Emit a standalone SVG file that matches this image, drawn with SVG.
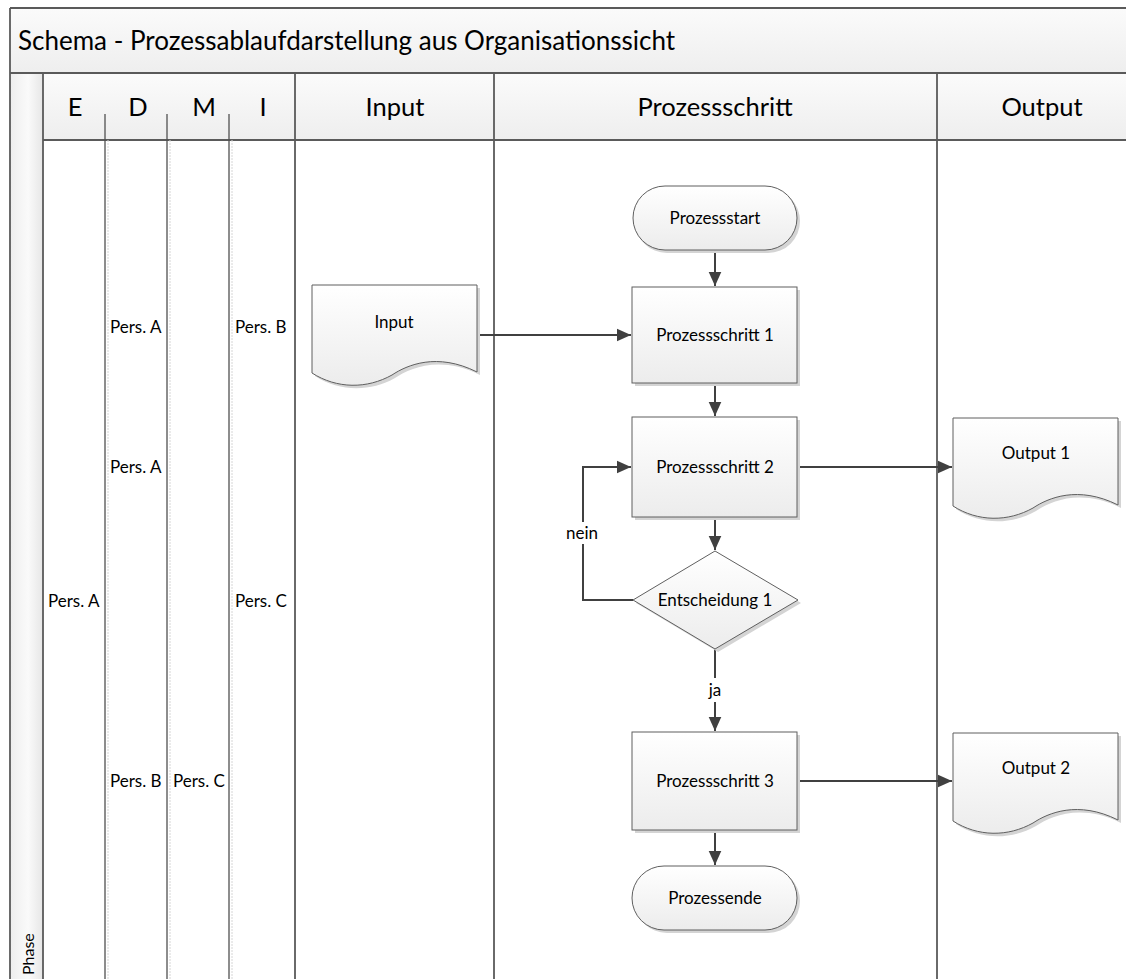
<svg xmlns="http://www.w3.org/2000/svg" width="1126" height="979" viewBox="0 0 1126 979">
  <style>
    .lane { stroke: #5a5a5a; stroke-width: 1.8; fill: none; }
    .sub { stroke: #505050; stroke-width: 1.3; fill: none; }
    .subs { stroke: #d6d6d6; stroke-width: 1; stroke-dasharray: 2 1; fill: none; }
    .shape { fill: url(#shapeFill); stroke: #5f5f5f; stroke-width: 1; }
    .shadow { fill: #d4d4d4; stroke: none; }
    .conn { stroke: #404040; stroke-width: 2; fill: none; }
    .t { font-family: Lato, "Open Sans", sans-serif; fill: #000; }
    .head { font-size: 25.5px; text-anchor: middle; }
    .node { font-size: 17px; text-anchor: middle; }
    .pers { font-size: 17px; }
  </style>
  <defs>
    <linearGradient id="shapeFill" x1="0" y1="0" x2="0" y2="1">
      <stop offset="0" stop-color="#ffffff"/>
      <stop offset="1" stop-color="#ececec"/>
    </linearGradient>
    <linearGradient id="headFill" x1="0" y1="0" x2="0" y2="1">
      <stop offset="0" stop-color="#fbfbfb"/>
      <stop offset="1" stop-color="#eeeeee"/>
    </linearGradient>
    <linearGradient id="phaseFill" x1="0" y1="0" x2="1" y2="0">
      <stop offset="0" stop-color="#ededed"/>
      <stop offset="0.55" stop-color="#fafafa"/>
      <stop offset="1" stop-color="#e6e6e6"/>
    </linearGradient>
    <marker id="arrow" viewBox="0 0 10 10" refX="10" refY="5" markerWidth="7" markerHeight="7" orient="auto" markerUnits="strokeWidth">
      <path d="M0,0.5 L10,5 L0,9.5 z" fill="#404040"/>
    </marker>
  </defs>

  <rect x="0" y="0" width="1126" height="979" fill="#ffffff"/>

  <!-- pool frame, title band and lane headers -->
  <g id="pool">
    <rect x="10" y="8" width="1120" height="65" fill="url(#headFill)"/>
    <rect x="43" y="73" width="1090" height="67" fill="url(#headFill)"/>
    <rect x="10" y="73" width="33" height="910" fill="url(#phaseFill)"/>
    <line class="lane" x1="10" y1="8" x2="1130" y2="8"/>
    <line class="lane" x1="10" y1="8" x2="10" y2="985"/>
    <line class="lane" x1="10" y1="73" x2="1130" y2="73"/>
    <line class="lane" x1="43" y1="140" x2="1130" y2="140"/>
    <line class="lane" x1="43" y1="73" x2="43" y2="985"/>
    <line class="lane" x1="295" y1="73" x2="295" y2="985"/>
    <line class="lane" x1="494" y1="73" x2="494" y2="985"/>
    <line class="lane" x1="937" y1="73" x2="937" y2="985"/>
    <text class="t" x="18" y="50" font-size="26px">Schema - Prozessablaufdarstellung aus Organisationssicht</text>
    <text class="t" font-size="16px" transform="translate(34,975) rotate(-90)">Phase</text>
  </g>

  <!-- E / D / M / I sub-columns -->
  <g id="roles">
    <line class="sub" x1="105" y1="114" x2="105" y2="985"/>
    <line class="subs" x1="108" y1="140" x2="108" y2="985"/>
    <line class="sub" x1="167" y1="114" x2="167" y2="985"/>
    <line class="subs" x1="170" y1="140" x2="170" y2="985"/>
    <line class="sub" x1="229" y1="114" x2="229" y2="985"/>
    <line class="subs" x1="232" y1="140" x2="232" y2="985"/>
    <text class="t head" x="75" y="116">E</text>
    <text class="t head" x="138" y="116">D</text>
    <text class="t head" x="204" y="116">M</text>
    <text class="t head" x="263" y="116">I</text>
    <text class="t pers" x="110" y="333">Pers. A</text>
    <text class="t pers" x="235" y="333">Pers. B</text>
    <text class="t pers" x="110" y="473">Pers. A</text>
    <text class="t pers" x="48" y="607">Pers. A</text>
    <text class="t pers" x="235" y="607">Pers. C</text>
    <text class="t pers" x="110" y="787">Pers. B</text>
    <text class="t pers" x="173" y="787">Pers. C</text>
  </g>

  <g id="lane-headers">
    <text class="t head" x="395" y="116">Input</text>
    <text class="t head" x="715" y="116">Prozessschritt</text>
    <text class="t head" x="1042" y="116">Output</text>
  </g>

  <!-- connectors -->
  <g id="connectors">
    <line class="conn" x1="715" y1="251" x2="715" y2="286" marker-end="url(#arrow)"/>
    <line class="conn" x1="477" y1="335" x2="631" y2="335" marker-end="url(#arrow)"/>
    <line class="conn" x1="715" y1="383" x2="715" y2="416" marker-end="url(#arrow)"/>
    <line class="conn" x1="797" y1="467" x2="952" y2="467" marker-end="url(#arrow)"/>
    <line class="conn" x1="715" y1="517" x2="715" y2="550" marker-end="url(#arrow)"/>
    <polyline class="conn" points="633,600 583,600 583,467 631,467" marker-end="url(#arrow)"/>
    <line class="conn" x1="715" y1="649" x2="715" y2="731" marker-end="url(#arrow)"/>
    <line class="conn" x1="797" y1="781" x2="952" y2="781" marker-end="url(#arrow)"/>
    <line class="conn" x1="715" y1="830" x2="715" y2="865" marker-end="url(#arrow)"/>
    <rect x="560" y="522" width="46" height="22" fill="#ffffff"/>
    <text class="t node" x="582" y="539">nein</text>
    <rect x="704" y="678" width="22" height="24" fill="#ffffff"/>
    <text class="t node" x="715" y="696">ja</text>
  </g>

  <g id="start">
    <rect class="shadow" x="635" y="189" width="165" height="64" rx="32"/>
    <rect class="shape" x="633" y="186" width="164" height="64" rx="32"/>
    <text class="t node" x="715" y="224">Prozessstart</text>
  </g>

  <g id="input">
    <path class="shadow" d="M315,288 H480 V375 C440,355 410,368 395,378 C370,392 340,392 315,376 Z"/>
    <path class="shape" d="M312,285 H477 V372 C437,352 407,365 392,375 C367,389 337,389 312,373 Z"/>
    <text class="t node" x="394" y="328">Input</text>
  </g>

  <g id="step1">
    <rect class="shadow" x="635" y="290" width="165" height="96"/>
    <rect class="shape" x="632" y="287" width="165" height="96"/>
    <text class="t node" x="715" y="341">Prozessschritt 1</text>
  </g>

  <g id="step2">
    <rect class="shadow" x="635" y="420" width="165" height="100"/>
    <rect class="shape" x="632" y="417" width="165" height="100"/>
    <text class="t node" x="715" y="473">Prozessschritt 2</text>
  </g>

  <g id="output1">
    <path class="shadow" d="M956,421 H1121 V508 C1081,488 1051,501 1036,511 C1011,525 981,525 956,509 Z"/>
    <path class="shape" d="M953,418 H1118 V505 C1078,485 1048,498 1033,508 C1008,522 978,522 953,506 Z"/>
    <text class="t node" x="1036" y="459">Output 1</text>
  </g>

  <g id="decision">
    <path class="shadow" d="M718,554 L801,603 L718,652 L636,603 Z"/>
    <path class="shape" d="M715,551 L798,600 L715,649 L633,600 Z"/>
    <text class="t node" x="715" y="606">Entscheidung 1</text>
  </g>

  <g id="step3">
    <rect class="shadow" x="635" y="735" width="165" height="98"/>
    <rect class="shape" x="632" y="732" width="165" height="98"/>
    <text class="t node" x="715" y="787">Prozessschritt 3</text>
  </g>

  <g id="output2">
    <path class="shadow" d="M956,736 H1121 V823 C1081,803 1051,816 1036,826 C1011,840 981,840 956,824 Z"/>
    <path class="shape" d="M953,733 H1118 V820 C1078,800 1048,813 1033,823 C1008,837 978,837 953,821 Z"/>
    <text class="t node" x="1036" y="774">Output 2</text>
  </g>

  <g id="end">
    <rect class="shadow" x="635" y="869" width="165" height="64" rx="32"/>
    <rect class="shape" x="632" y="866" width="165" height="64" rx="32"/>
    <text class="t node" x="715" y="904">Prozessende</text>
  </g>
</svg>
